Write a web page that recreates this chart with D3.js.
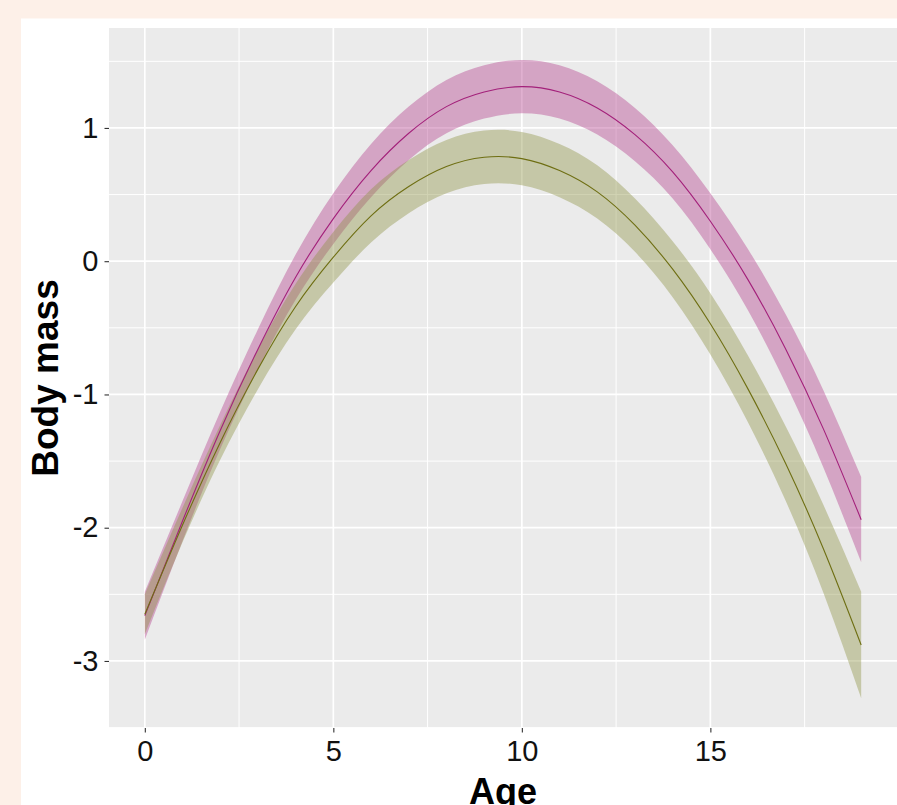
<!DOCTYPE html>
<html>
<head>
<meta charset="utf-8">
<script src="https://cdn.jsdelivr.net/npm/d3@7"></script>
<style>
  html, body { margin: 0; padding: 0; background: #fdf0e8; }
  svg { display: block; }
</style>
</head>
<body>
<script>
// ---- data ----
const ages = [0,1,2,3,4,5,6,7,8,9,10,11,12,13,14,15,16,17,18,19];

const pinkMean  = [-2.66,-1.95,-1.27,-0.66,-0.12,0.32,0.68,0.96,1.16,1.27,1.31,1.27,1.15,0.95,0.67,0.30,-0.14,-0.66,-1.26,-1.94];
const pinkUpper = [-2.48,-1.80,-1.13,-0.51,0.05,0.51,0.88,1.16,1.36,1.47,1.51,1.47,1.35,1.15,0.87,0.51,0.09,-0.40,-0.97,-1.62];
const pinkLower = [-2.84,-2.10,-1.41,-0.81,-0.29,0.13,0.48,0.76,0.96,1.07,1.11,1.07,0.95,0.75,0.47,0.09,-0.37,-0.92,-1.55,-2.26];

const greenMean  = [-2.65,-1.98,-1.36,-0.81,-0.34,0.03,0.34,0.56,0.71,0.78,0.77,0.68,0.52,0.27,-0.06,-0.47,-0.96,-1.52,-2.16,-2.88];
const greenUpper = [-2.50,-1.85,-1.23,-0.66,-0.17,0.22,0.54,0.76,0.91,0.98,0.97,0.88,0.72,0.47,0.15,-0.24,-0.71,-1.24,-1.83,-2.48];
const greenLower = [-2.80,-2.11,-1.49,-0.96,-0.51,-0.16,0.14,0.36,0.51,0.58,0.57,0.48,0.32,0.07,-0.27,-0.70,-1.21,-1.80,-2.49,-3.28];

const xTicks = [0, 5, 10, 15];
const xMinor = [2.5, 7.5, 12.5, 17.5];
const yTicks = [1, 0, -1, -2, -3];
const yMinor = [1.5, 0.5, -0.5, -1.5, -2.5, -3.5];
const xTitle = "Age";
const yTitle = "Body mass";

// ---- layout ----
const W = 897, H = 805;
const panel = { left: 109, right: 897, top: 28, bottom: 728 };

const svg = d3.select("body").append("svg").attr("width", W).attr("height", H);
svg.append("rect").attr("width", W).attr("height", H).attr("fill", "#fdf0e8");
svg.append("rect").attr("x", 21).attr("y", 18.5).attr("width", W - 21).attr("height", H - 18.5).attr("fill", "#ffffff");

const x = d3.scaleLinear().domain([-0.95, 19.95]).range([panel.left, panel.right]);
const y = d3.scaleLinear().domain([-3.503, 1.750]).range([panel.bottom, panel.top]);

svg.append("rect")
  .attr("x", panel.left).attr("y", panel.top)
  .attr("width", panel.right - panel.left).attr("height", panel.bottom - panel.top)
  .attr("fill", "#ebebeb");

const grid = svg.append("g");
// minor grid
grid.selectAll(".vmin").data(xMinor).join("line")
  .attr("x1", d => x(d)).attr("x2", d => x(d))
  .attr("y1", panel.top).attr("y2", panel.bottom)
  .attr("stroke", "#fff").attr("stroke-width", 1.0);
grid.selectAll(".hmin").data(yMinor.filter(v => y(v) >= panel.top && y(v) <= panel.bottom)).join("line")
  .attr("x1", panel.left).attr("x2", panel.right)
  .attr("y1", d => y(d)).attr("y2", d => y(d))
  .attr("stroke", "#fff").attr("stroke-width", 1.0);
// major grid
grid.selectAll(".vmaj").data(xTicks).join("line")
  .attr("x1", d => x(d)).attr("x2", d => x(d))
  .attr("y1", panel.top).attr("y2", panel.bottom)
  .attr("stroke", "#fff").attr("stroke-width", 1.7);
grid.selectAll(".hmaj").data(yTicks).join("line")
  .attr("x1", panel.left).attr("x2", panel.right)
  .attr("y1", d => y(d)).attr("y2", d => y(d))
  .attr("stroke", "#fff").attr("stroke-width", 1.7);

// ---- series ----
const series = [
  { mean: pinkMean, upper: pinkUpper, lower: pinkLower, fill: "#b23a8a", line: "#a3207a" },
  { mean: greenMean, upper: greenUpper, lower: greenLower, fill: "#8c9141", line: "#6e6e12" }
];

const curve = d3.curveNatural;
const area = d3.area().curve(curve);
const line = d3.line().curve(curve);

const plot = svg.append("g");
series.forEach(s => {
  const pts = ages.map((a, i) => ({ a, lo: s.lower[i], hi: s.upper[i] }));
  plot.append("path")
    .attr("d", area.x(d => x(d.a)).y0(d => y(d.lo)).y1(d => y(d.hi))(pts))
    .attr("fill", s.fill).attr("fill-opacity", 0.4).attr("stroke", "none");
});
series.forEach(s => {
  const pts = ages.map((a, i) => [x(a), y(s.mean[i])]);
  plot.append("path")
    .attr("d", line(pts))
    .attr("fill", "none").attr("stroke", s.line).attr("stroke-width", 1.1);
});

// ---- axes ----
const font = "'Liberation Sans', Arial, sans-serif";
const xAxis = svg.append("g").attr("transform", `translate(0,${panel.bottom})`)
  .call(d3.axisBottom(x).tickValues(xTicks).tickSize(4.5).tickPadding(8).tickFormat(d3.format("d")));
xAxis.select(".domain").remove();
xAxis.selectAll(".tick line").attr("stroke", "#333").attr("stroke-width", 1.1);
xAxis.selectAll(".tick text").attr("font-family", font).attr("font-size", 29).attr("fill", "#111");

const yAxis = svg.append("g").attr("transform", `translate(${panel.left},0)`)
  .call(d3.axisLeft(y).tickValues(yTicks).tickSize(4.5).tickPadding(6).tickFormat(d => d < 0 ? "-" + Math.abs(d) : String(d)));
yAxis.select(".domain").remove();
yAxis.selectAll(".tick line").attr("stroke", "#333").attr("stroke-width", 1.1);
yAxis.selectAll(".tick text").attr("font-family", font).attr("font-size", 29).attr("fill", "#111");

svg.append("text")
  .attr("x", (panel.left + panel.right) / 2).attr("y", 804)
  .attr("text-anchor", "middle")
  .attr("font-family", font).attr("font-size", 36).attr("font-weight", "bold").attr("fill", "#000")
  .text(xTitle);

svg.append("text")
  .attr("transform", `translate(58,${(panel.top + panel.bottom) / 2}) rotate(-90)`)
  .attr("text-anchor", "middle")
  .attr("font-family", font).attr("font-size", 37).attr("font-weight", "bold").attr("fill", "#000")
  .text(yTitle);
</script>
</body>
</html>
